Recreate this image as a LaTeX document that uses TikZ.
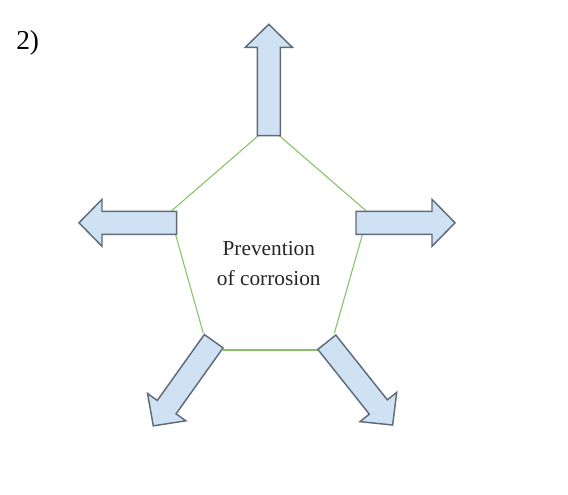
\documentclass[tikz,border=0pt]{standalone}
\usepackage{fontspec}
\setmainfont{Liberation Serif}
\definecolor{arrowfill}{HTML}{CFE2F3}
\definecolor{arrowline}{HTML}{5F6B78}
\definecolor{pentgreen}{HTML}{86C265}
\tikzset{
	bigarrow/.style={fill=arrowfill,draw=arrowline,line width=1.1pt,line join=miter},
	pentline/.style={draw=pentgreen,line width=0.8pt}
}
% block arrow: base point, angle, length
\newcommand{\blockarrow}[3]{%
	\draw[bigarrow,shift={#1},rotate=#2] (0,-11.5) -- (#3-23,-11.5) -- (#3-23,-23.5) -- (#3,0) -- (#3-23,23.5) -- (#3-23,11.5) -- (0,11.5) -- cycle;}

\begin{document}
\begin{tikzpicture}[x=0.75pt,y=-0.75pt]
	\useasboundingbox (0,0) rectangle (568,494);
	\node at (16,49)[anchor=base west,inner sep=0pt,font=\fontsize{20.5}{22}\selectfont] (num) {2)};
	\coordinate (p1) at (258.3,135.7);
	\coordinate (p2) at (171.7,210.7);
	\coordinate (p3) at (175.7,235);
	\coordinate (p4) at (203.3,333.3);
	\coordinate (p5) at (223.3,350);
	\coordinate (p6) at (320,350);
	\coordinate (p7) at (334.3,333.3);
	\coordinate (p8) at (362.3,235);
	\coordinate (p9) at (366,210.7);
	\coordinate (p10) at (279.3,135.7);
	\draw[pentline] (p1)--(p2);
	\draw[pentline] (p3)--(p4);
	\draw[pentline] (p5)--(p6);
	\draw[pentline] (p7)--(p8);
	\draw[pentline] (p9)--(p10);
	\blockarrow{(268.8,135.7)}{90}{111.4}
	\blockarrow{(176.7,222.8)}{180}{97.7}
	\blockarrow{(356,222.8)}{0}{99}
	\blockarrow{(213.7,341.2)}{234.5}{104}
	\blockarrow{(326.8,342.2)}{-51.5}{105.8}
	\node at (268.8,285)[anchor=base,align=center,inner sep=0pt,text=black!85,font=\fontsize{16}{22.5}\selectfont] (prev) {Prevention\\of corrosion};
\end{tikzpicture}
\end{document}
